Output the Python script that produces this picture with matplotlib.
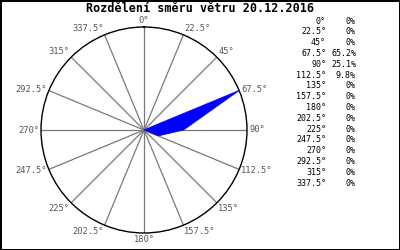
import numpy as np
import matplotlib
matplotlib.use('Agg')
import matplotlib.pyplot as plt

# směry a četnosti (%)
directions = [0, 22.5, 45, 67.5, 90, 112.5, 135, 157.5,
              180, 202.5, 225, 247.5, 270, 292.5, 315, 337.5]
percent = [0, 0, 0, 65.2, 25.1, 9.8, 0, 0,
           0, 0, 0, 0, 0, 0, 0, 0]
title = 'Rozdělení směru větru 20.12.2016'

mono = 'DejaVu Sans Mono'

fig = plt.figure(figsize=(4, 2.5), dpi=100, edgecolor='black', linewidth=2)
ax = fig.add_axes([0.1025, 0.068, 0.515, 0.824], projection='polar')
ax.set_theta_zero_location('N')
ax.set_theta_direction(-1)

rmax = max(percent)
ax.set_ylim(0, rmax)
ax.grid(False)
ax.set_xticks([])
ax.set_yticks([])
ax.spines['polar'].set_color('black')
ax.spines['polar'].set_linewidth(1)

theta = np.deg2rad(directions)

# paprsky
for t in theta:
    ax.plot([t, t], [0, rmax], color='#7a7a7a', lw=0.9, zorder=1)
ax.plot([0], [0], 'o', color='#7a7a7a', ms=3, zorder=2)

# polygon četností
th = np.append(theta, theta[0])
vals = np.append(percent, percent[0])
ax.fill(th, vals, facecolor='#0000ff', edgecolor='#0000ff', lw=0.5, zorder=3)

# popisky směrů
for d, t in zip(directions, theta):
    s, c = np.sin(t), np.cos(t)
    ha = 'left' if s > 0.1 else ('right' if s < -0.1 else 'center')
    va = 'bottom' if c > 0.5 else ('top' if c < -0.5 else 'center')
    lab = ('%g' % d) + '°'
    ax.text(t, rmax * 1.02, lab, ha=ha, va=va, fontsize=6.3, family=mono,
            color='#555555', clip_on=False)

fig.text(0.5, 0.964, title, ha='center', va='center', fontsize=8.5,
         fontweight='bold', family=mono)

# tabulka vpravo
y0 = 250 - 21
for i, (d, p) in enumerate(zip(directions, percent)):
    y = (y0 - i * 10.8) / 250
    fig.text(326 / 400, y, ('%g' % d) + '°', ha='right', va='center',
             fontsize=6, family=mono)
    fig.text(356 / 400, y, ('%g' % p) + '%', ha='right', va='center',
             fontsize=6, family=mono)

fig.savefig('out.png', dpi=100)
